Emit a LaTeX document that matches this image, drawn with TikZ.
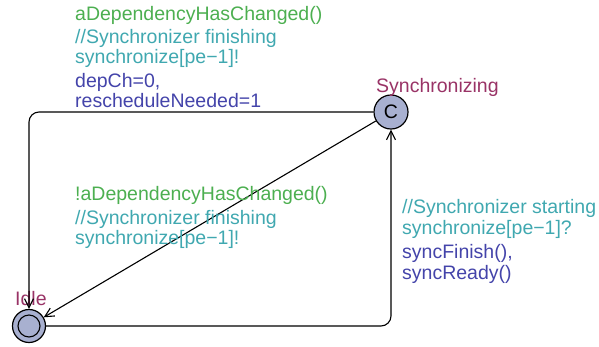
\documentclass[tikz,border=0pt]{standalone}
\usepackage{fontspec}
\setmainfont{Liberation Sans}
\usetikzlibrary{arrows.meta,positioning}
\definecolor{grdgreen}{RGB}{76,175,80}
\definecolor{syncteal}{RGB}{64,168,176}
\definecolor{updblue}{RGB}{68,68,170}
\definecolor{locname}{RGB}{153,51,102}
\definecolor{locfill}{RGB}{168,176,208}
\tikzset{loc/.style={circle, draw, line width=1.2pt, fill=locfill, inner sep=0pt},
  trans/.style={-{Straight Barb[length=9pt, width=9pt]}, line width=1.1pt, rounded corners=10pt},
  lbl/.style={anchor=base west, inner sep=0pt, align=left, font=\fontsize{19.5}{20.5}\selectfont},
  grdlbl/.style={lbl, text=grdgreen},
  synclbl/.style={lbl, text=syncteal},
  updlbl/.style={lbl, text=updblue},
  loclbl/.style={lbl, text=locname}}

\begin{document}
\begin{tikzpicture}[x=1pt, y=-1pt]
  \useasboundingbox (0,0) rectangle (599,346);
  % locations
  \node[loc, minimum size=34pt, font=\fontsize{19.5}{20}\selectfont] (synchronizing) at (391,112) {C};
  \node[loc, minimum size=33pt] (idle) at (29,326) {};
  \draw[line width=1.1pt] (idle.center) circle[radius=11pt];
  \node[loclbl] (synchronizingname) at (376,92) {Synchronizing};
  \node[loclbl] (idlename) at (15,305) {Idle};
  % edges
  \draw[trans] (synchronizing.west) -| (idle.north);
  \draw[trans] (synchronizing) -- (idle);
  \draw[trans] (idle.east) -| (synchronizing.south);
  % labels of the top edge (base = last line)
  \node[grdlbl] (grdtop) at (75,20) {aDependencyHasChanged()};
  \node[synclbl] (synctop) at (75,63.5) {//Synchronizer finishing\\synchronize[pe−1]!};
  \node[updlbl] (updtop) at (75,107.5) {depCh=0,\\rescheduleNeeded=1};
  % labels of the diagonal edge
  \node[grdlbl] (grddiag) at (75,200) {!aDependencyHasChanged()};
  \node[synclbl] (syncdiag) at (75,244.5) {//Synchronizer finishing\\synchronize[pe−1]!};
  % labels of the bottom edge
  \node[synclbl] (syncbot) at (402,234) {//Synchronizer starting\\synchronize[pe−1]?};
  \node[updlbl] (updbot) at (402,279) {syncFinish(),\\syncReady()};
\end{tikzpicture}
\end{document}
